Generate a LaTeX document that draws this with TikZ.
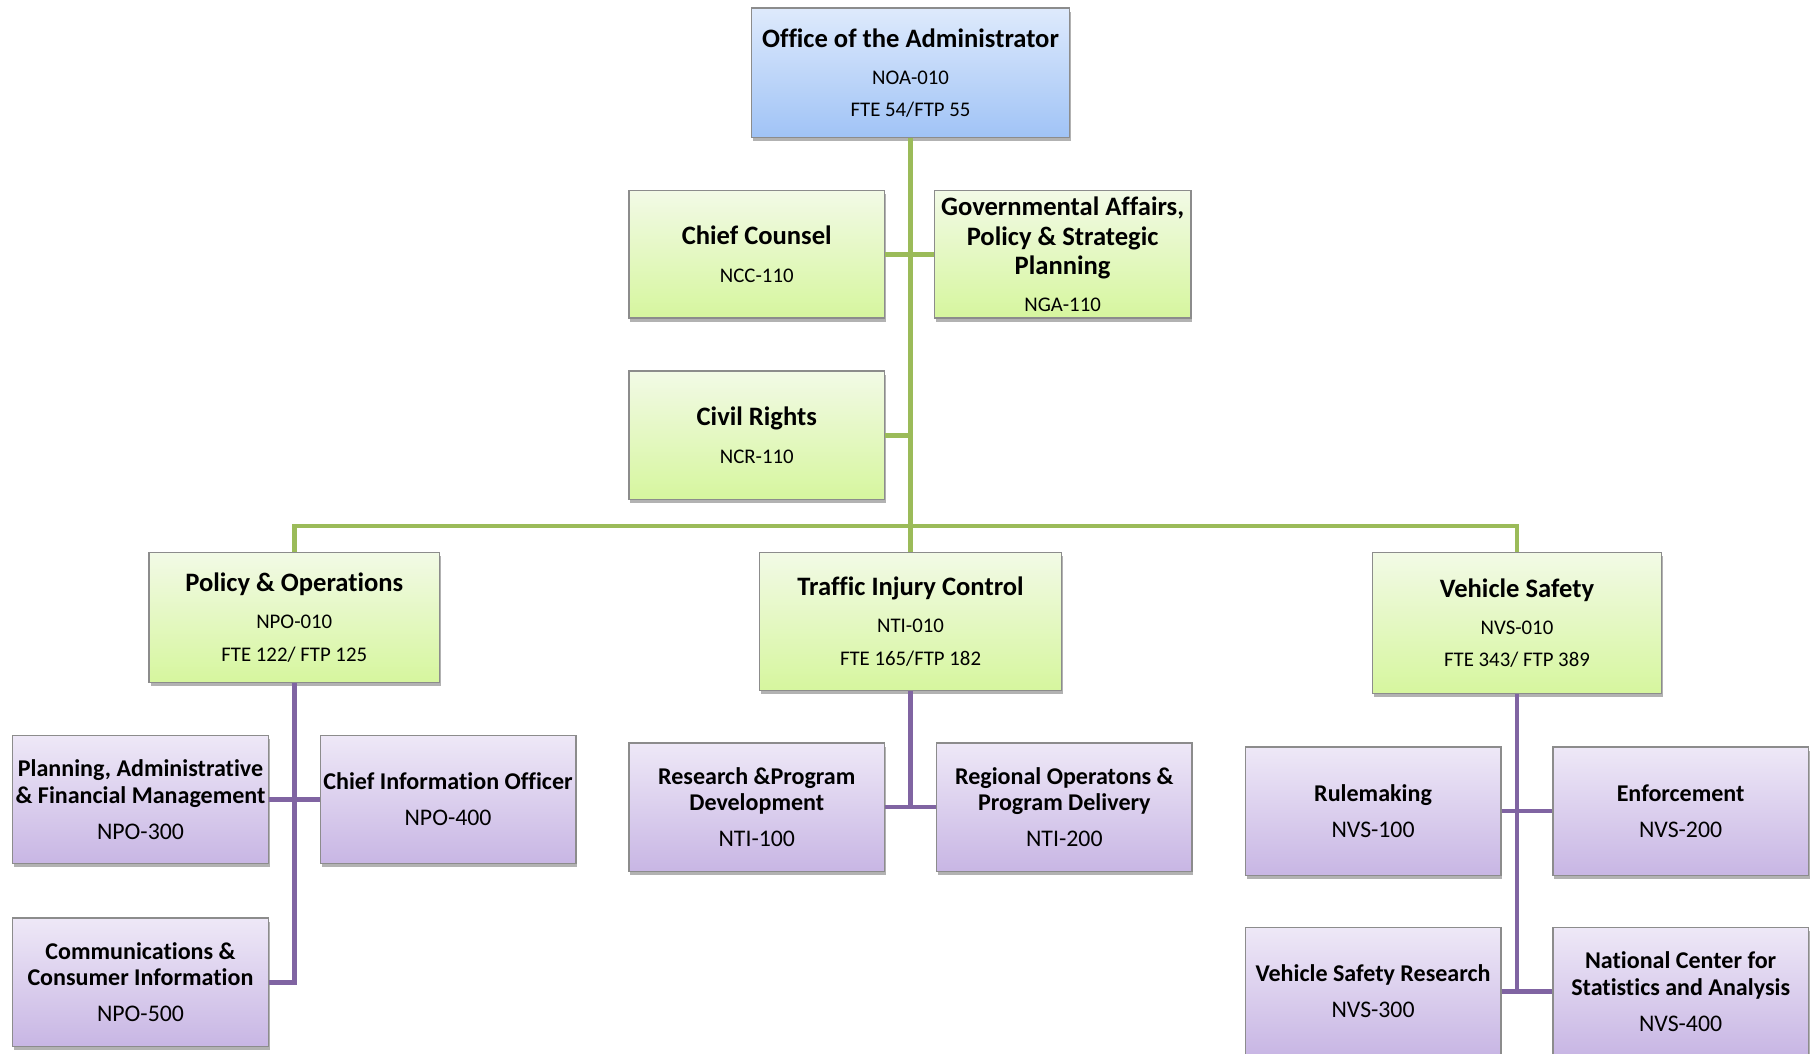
\documentclass[tikz,border=0pt]{standalone}
\usepackage{fontspec}
\setmainfont{Carlito}[Ligatures=NoCommon]
\usetikzlibrary{shadows}
\definecolor{blueTop}{RGB}{222,234,252}
\definecolor{blueBot}{RGB}{160,195,246}
\definecolor{greenTop}{RGB}{242,250,230}
\definecolor{greenBot}{RGB}{214,246,158}
\definecolor{purpTop}{RGB}{238,232,247}
\definecolor{purpBot}{RGB}{200,182,228}
\definecolor{boxborder}{RGB}{140,140,140}
\definecolor{lineGreen}{RGB}{155,187,89}
\definecolor{linePurple}{RGB}{128,100,162}
\newcommand{\ttlG}[1]{{\bfseries\fontsize{11.5}{14}\selectfont #1}}
\newcommand{\ttlP}[1]{{\bfseries\fontsize{10.4}{11.5}\selectfont #1}}
\tikzset{
  orgbox/.style={draw=boxborder, line width=0.6pt, align=center, inner sep=1pt,
    drop shadow={shadow xshift=0.6pt, shadow yshift=-1.6pt, opacity=0.3, fill=black}},
  bluebox/.style={orgbox, top color=blueTop, bottom color=blueBot, font=\fontsize{9}{14}\selectfont},
  greenbox/.style={orgbox, top color=greenTop, bottom color=greenBot, font=\fontsize{9}{14}\selectfont},
  purplebox/.style={orgbox, top color=purpTop, bottom color=purpBot, font=\fontsize{10.3}{11.5}\selectfont,
    minimum width=110.5pt, minimum height=55.5pt},
  gline/.style={draw=lineGreen, line width=2pt},
  pline/.style={draw=linePurple, line width=2pt},
}
\begin{document}
\begin{tikzpicture}[x=0.5pt, y=-0.5pt]
\useasboundingbox (0,0) rectangle (1568,911);
% top level
\node[bluebox, minimum width=137.5pt, minimum height=56pt] (admin) at (787.5,63)
  {\ttlG{Office of the Administrator}\\[2pt]NOA-010\\FTE 54/FTP 55};
\node[greenbox, minimum width=110.5pt, minimum height=55pt] (cc) at (654.5,220)
  {\ttlG{Chief Counsel}\\[2.5pt]NCC-110};
\node[greenbox, minimum width=111pt, minimum height=55pt] (ga) at (919,220)
  {\ttlG{Governmental Affairs,}\\[-1.25pt]\ttlG{Policy \& Strategic}\\[-1.25pt]\ttlG{Planning}\\[2pt]NGA-110};
\node[greenbox, minimum width=110.5pt, minimum height=55.5pt] (cr) at (654.5,376.5)
  {\ttlG{Civil Rights}\\[2.5pt]NCR-110};
% second level
\node[greenbox, minimum width=125.5pt, minimum height=56pt] (po) at (254.5,534)
  {\ttlG{Policy \& Operations}\\[2pt]NPO-010\\FTE 122/ FTP 125};
\node[greenbox, minimum width=130.5pt, minimum height=59.5pt] (tic) at (787.5,537.5)
  {\ttlG{Traffic Injury Control}\\[2pt]NTI-010\\FTE 165/FTP 182};
\node[greenbox, minimum width=125pt, minimum height=61pt] (vs) at (1312,539)
  {\ttlG{Vehicle Safety}\\[2pt]NVS-010\\FTE 343/ FTP 389};
% purple level
\node[purplebox] (pam) at (121.5,691.5)
  {\ttlP{Planning, Administrative}\\\ttlP{\& Financial Management}\\[4pt]NPO-300};
\node[purplebox] (cio) at (387.5,691.5)
  {\ttlP{Chief Information Officer}\\[4pt]NPO-400};
\node[purplebox] (comm) at (121.5,849.5)
  {\ttlP{Communications \&}\\\ttlP{Consumer Information}\\[4pt]NPO-500};
\node[purplebox] (rpd) at (654.5,698)
  {\ttlP{Research \&Program}\\\ttlP{Development}\\[4pt]NTI-100};
\node[purplebox] (rop) at (920.5,698)
  {\ttlP{Regional Operatons \&}\\\ttlP{Program Delivery}\\[4pt]NTI-200};
\node[purplebox] (rule) at (1187.5,701.5)
  {\ttlP{Rulemaking}\\[4pt]NVS-100};
\node[purplebox] (enf) at (1453.5,701.5)
  {\ttlP{Enforcement}\\[4pt]NVS-200};
\node[purplebox] (vsr) at (1187.5,857.5)
  {\ttlP{Vehicle Safety Research}\\[4pt]NVS-300};
\node[purplebox] (ncsa) at (1453.5,857.5)
  {\ttlP{National Center for}\\\ttlP{Statistics and Analysis}\\[4pt]NVS-400};
% green connectors
\coordinate (bus) at (787.5,455);
\draw[gline] (admin.south) -- (tic.north);
\draw[gline] (po.north) |- (bus) -| (vs.north);
\draw[gline] (cc.east) -- (ga.west);
\draw[gline] (cr.east) -- (cr.east -| admin.south);
% purple connectors
\draw[pline] (po.south) |- (comm.east);
\draw[pline] (pam.east) -- (cio.west);
\draw[pline] (tic.south) |- (rpd.east);
\draw[pline] (rpd.east) -- (rop.west);
\draw[pline] (vs.south) |- (vsr.east);
\draw[pline] (rule.east) -- (enf.west);
\draw[pline] (vsr.east) -- (ncsa.west);
\end{tikzpicture}
\end{document}
